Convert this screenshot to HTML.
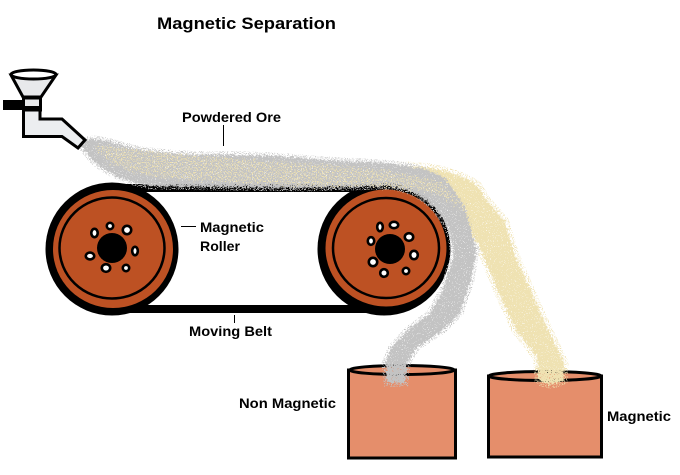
<!DOCTYPE html>
<html><head><meta charset="utf-8"><style>
html,body{margin:0;padding:0;background:#fff;width:680px;height:475px;overflow:hidden}
svg{display:block}
text{font-family:"Liberation Sans",sans-serif;font-weight:bold;fill:#000}
</style></head><body>
<svg width="680" height="475" viewBox="0 0 680 475" xmlns="http://www.w3.org/2000/svg">
<defs>
<filter id="dense" x="-5%" y="-5%" width="110%" height="110%" color-interpolation-filters="sRGB">
<feTurbulence type="fractalNoise" baseFrequency="0.5" numOctaves="2" seed="4" result="n"/>
<feDisplacementMap in="SourceGraphic" in2="n" scale="7" xChannelSelector="R" yChannelSelector="G" result="d"/>
<feTurbulence type="fractalNoise" baseFrequency="0.95" numOctaves="1" seed="9"/>
<feColorMatrix type="matrix" values="0 0 0 0 0 0 0 0 0 0 0 0 0 0 0 14 0 0 0 -4.2"/>
<feComposite in="d" operator="in"/>
</filter>
<filter id="halo" x="-5%" y="-5%" width="110%" height="110%" color-interpolation-filters="sRGB">
<feTurbulence type="fractalNoise" baseFrequency="0.95" numOctaves="1" seed="15"/>
<feColorMatrix type="matrix" values="0 0 0 0 0 0 0 0 0 0 0 0 0 0 0 14 0 0 0 -7.4"/>
<feComposite in="SourceGraphic" operator="in"/>
</filter>
<filter id="sparse" x="-5%" y="-5%" width="110%" height="110%" color-interpolation-filters="sRGB">
<feTurbulence type="fractalNoise" baseFrequency="0.45" numOctaves="2" seed="7" result="n"/>
<feDisplacementMap in="SourceGraphic" in2="n" scale="12" xChannelSelector="R" yChannelSelector="G" result="d"/>
<feTurbulence type="fractalNoise" baseFrequency="0.8" numOctaves="1" seed="21"/>
<feColorMatrix type="matrix" values="0 0 0 0 0 0 0 0 0 0 0 0 0 0 0 12 0 0 0 -6.3"/>
<feComposite in="d" operator="in"/>
</filter>
<path id="yel" d="M400,166 C425,166 455,170 478,186 L484,197 L505,222 L514,253 L542,317 L564,363 L563,380 C555,385 545,385 539,380 L537,357 L516,330 L499,293 L479,245 L465,228 C450,205 430,195 400,185 Z"/>
<path id="gry" d="M80,143 C95,132 120,148 150,151 C200,158 230,152 300,158 C350,164 410,158 445,178 L465,207 L476,250 L471,280 L460,313 L443,330 L417,347 L407,363 L405,383 L387,383 L385,363 L392,347 L408,330 L430,313 L443,290 L453,258 C456,225 428,188 385,186 L300,188 L150,186 C120,180 95,170 80,143 Z"/>
</defs>

<!-- belts -->
<rect x="112" y="184" width="272" height="8" fill="#000"/>
<rect x="112" y="305" width="272" height="8" fill="#000"/>

<!-- left roller -->
<circle cx="112" cy="249" r="66.5" fill="#000"/>
<ellipse cx="113" cy="249" rx="60" ry="59" fill="#bd5123"/>
<ellipse cx="112" cy="248" rx="52.5" ry="50.5" fill="none" stroke="#000" stroke-width="2.5"/>
<circle cx="112" cy="248" r="15" fill="#000"/>
<g fill="#fff" stroke="#000" stroke-width="2.600">
<ellipse cx="94.500" cy="233" rx="3.200" ry="4.200"/>
<ellipse cx="110" cy="226" rx="3.200" ry="3.200"/>
<ellipse cx="127" cy="230" rx="4.200" ry="4.200"/>
<ellipse cx="135" cy="251" rx="2.800" ry="4.200"/>
<ellipse cx="90" cy="256" rx="4.200" ry="3.400"/>
<ellipse cx="106" cy="268" rx="4.200" ry="3.800"/>
<ellipse cx="126" cy="268" rx="3.200" ry="3.200"/>
</g>

<!-- right roller -->
<circle cx="384" cy="249" r="66.5" fill="#000"/>
<ellipse cx="386" cy="248" rx="60.500" ry="58.500" fill="#bd5123"/>
<ellipse cx="386" cy="248" rx="53" ry="50" fill="none" stroke="#000" stroke-width="2.500"/>
<circle cx="390" cy="249" r="15" fill="#000"/>
<g fill="#fff" stroke="#000" stroke-width="2.600">
<ellipse cx="380" cy="227" rx="2.800" ry="4.200"/>
<ellipse cx="394" cy="225" rx="4.200" ry="3.200"/>
<ellipse cx="409" cy="237" rx="4.200" ry="3.800"/>
<ellipse cx="414" cy="255" rx="3.800" ry="4.200"/>
<ellipse cx="406" cy="271" rx="3.200" ry="3.200"/>
<ellipse cx="384" cy="273" rx="3.800" ry="3.800"/>
<ellipse cx="373" cy="262" rx="4.200" ry="4.200"/>
<ellipse cx="371" cy="241" rx="3.200" ry="3.800"/>
</g>

<!-- buckets -->
<rect x="348.500" y="370" width="107" height="88" fill="#e58e6b" stroke="#000" stroke-width="3"/>
<ellipse cx="402" cy="370" rx="52" ry="4.500" fill="#e58e6b" stroke="#000" stroke-width="3"/>
<rect x="488.500" y="376" width="113" height="81" fill="#e58e6b" stroke="#000" stroke-width="3"/>
<ellipse cx="545" cy="376" rx="56" ry="4.500" fill="#e58e6b" stroke="#000" stroke-width="3"/>

<!-- powder halo -->
<use href="#yel" filter="url(#halo)" fill="#efe2b2" stroke="#efe2b2" stroke-width="9"/>
<use href="#gry" filter="url(#halo)" fill="#c3c3c3" stroke="#c3c3c3" stroke-width="7"/>
<!-- powder: yellow stream -->
<use href="#yel" filter="url(#dense)" fill="#efe2b2"/>
<!-- powder: gray stream -->
<use href="#gry" filter="url(#dense)" fill="#c3c3c3"/>
<!-- yellow flecks in gray -->
<path filter="url(#sparse)" fill="#efe2b2" d="M95,145 C130,150 180,155 230,158 C300,165 380,165 440,182 L470,215 L440,195 C400,185 350,186 300,186 L160,178 C130,172 105,165 95,145 Z"/>

<!-- hopper -->
<rect x="3" y="100" width="20" height="10" fill="#000"/>
<path d="M23.500,110 L23.500,136.500 L62,136.500 L78,148 L85,140 L62,119 L40,119 L40,110 Z" fill="#eceef0" stroke="#000" stroke-width="3"/>
<path d="M11,75 L23,97 L41,97 L56,75 Z" fill="#e8e9eb" stroke="#000" stroke-width="3"/>
<rect x="23.500" y="98" width="17" height="12" fill="#e8e9eb" stroke="#000" stroke-width="3"/>
<rect x="25" y="106" width="14" height="2.500" fill="#000"/>
<ellipse cx="33.500" cy="74.500" rx="22.500" ry="4.500" fill="#fff" stroke="#000" stroke-width="3"/>

<!-- leader lines -->
<line x1="223.500" y1="125" x2="223.500" y2="146" stroke="#000" stroke-width="1"/>
<line x1="181" y1="226.500" x2="196" y2="226.500" stroke="#000" stroke-width="1"/>
<line x1="234.500" y1="315" x2="234.500" y2="323" stroke="#000" stroke-width="1"/>

<!-- labels -->
<text x="157" y="29" font-size="17" textLength="179" lengthAdjust="spacingAndGlyphs">Magnetic Separation</text>
<text x="182" y="122" font-size="14" textLength="99" lengthAdjust="spacingAndGlyphs">Powdered Ore</text>
<text x="200" y="232" font-size="14" textLength="64" lengthAdjust="spacingAndGlyphs">Magnetic</text>
<text x="200" y="251" font-size="14" textLength="40" lengthAdjust="spacingAndGlyphs">Roller</text>
<text x="189" y="336" font-size="14" textLength="83" lengthAdjust="spacingAndGlyphs">Moving Belt</text>
<text x="239" y="408" font-size="14" textLength="97" lengthAdjust="spacingAndGlyphs">Non Magnetic</text>
<text x="607" y="421" font-size="14" textLength="64" lengthAdjust="spacingAndGlyphs">Magnetic</text>
</svg>
</body></html>
